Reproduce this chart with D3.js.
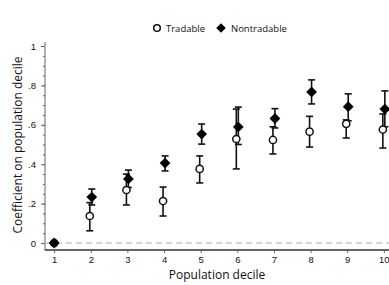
<!DOCTYPE html>
<meta charset="utf-8">
<style>
body { margin: 0; background: #fff; font-family: 'Open Sans', sans-serif; }
text { fill: #111; }
.axis path, .axis line { stroke: #666; }
.zero-line { stroke: #aaa; stroke-dasharray: 6,4; stroke-width: 1; }
.bar { stroke: #111; stroke-width: 1.6px; }
</style>
<body>
<svg width="389" height="285"></svg>
<script src="https://d3js.org/d3.v7.min.js"></script>
<script>
// deciles and point estimates with 95% bands
var deciles = [1,2,3,4,5,6,7,8,9,10];
var tradable      = [0, 0.137, 0.269, 0.213, 0.376, 0.528, 0.523, 0.565, 0.605, 0.576];
var tradableLo    = [0, 0.062, 0.193, 0.137, 0.305, 0.376, 0.452, 0.487, 0.533, 0.482];
var tradableHi    = [0, 0.205, 0.350, 0.284, 0.442, 0.680, 0.590, 0.643, 0.625, 0.655];
var nontradable   = [0, 0.233, 0.325, 0.406, 0.553, 0.589, 0.632, 0.767, 0.692, 0.680];
var nontradableLo = [0, 0.193, 0.282, 0.366, 0.502, 0.500, 0.584, 0.706, 0.620, 0.590];
var nontradableHi = [0, 0.274, 0.370, 0.442, 0.604, 0.690, 0.682, 0.828, 0.757, 0.772];
var yTicks = [0, 0.2, 0.4, 0.6, 0.8, 1];
var yTickLabels = ["0", ".2", ".4", ".6", ".8", "1"];

var svg = d3.select("svg");

var x = d3.scaleLinear().domain([0.75, 10.25]).range([45, 393]);
var y = d3.scaleLinear().domain([0, 1]).range([243, 46]);

// y axis with minor ticks
var yMinor = d3.range(0, 1.0001, 0.05);
svg.append("g")
    .attr("class", "axis")
    .attr("transform", "translate(45,0)")
    .call(d3.axisLeft(y).tickValues(yMinor).tickSize(2).tickFormat(""))
    .call(function(g) { g.select(".domain").remove(); });

svg.append("g")
    .attr("class", "axis axis--y")
    .attr("transform", "translate(45,0)")
    .call(d3.axisLeft(y).tickValues(yTicks).tickSize(4).tickPadding(5)
      .tickFormat(function(d, i) { return yTickLabels[i]; }))
    .call(function(g) {
      g.select(".domain").attr("d", "M0," + y(-0.04) + "V" + y(1.02));
      g.selectAll("text").style("font-size", "9.5px").attr("fill", "#111");
    });

// x axis
svg.append("g")
    .attr("class", "axis axis--x")
    .attr("transform", "translate(0," + y(-0.036) + ")")
    .call(d3.axisBottom(x).tickValues(deciles).tickSize(3).tickPadding(3).tickFormat(d3.format("d")))
    .call(function(g) {
      g.select(".domain").attr("stroke-width", 2).attr("stroke", "#aaa")
        .attr("d", "M45,0H389");
      g.selectAll("text").style("font-size", "9.5px").attr("fill", "#111");
    });

// zero reference line
svg.append("line")
    .attr("class", "zero-line")
    .attr("x1", 46).attr("x2", 389)
    .attr("y1", y(0)).attr("y2", y(0));

// base decile sits exactly on the tick, others are nudged apart
function offset(i, dx) { return i === 0 ? 0 : dx; }

function drawBars(vals, lo, hi, dx) {
  var g = svg.append("g");
  deciles.forEach(function(d, i) {
    if (i === 0) return;
    var cx = x(d) + dx;
    g.append("line").attr("class", "bar")
      .attr("x1", cx).attr("x2", cx).attr("y1", y(lo[i])).attr("y2", y(hi[i]));
    [lo[i], hi[i]].forEach(function(v) {
      g.append("line").attr("class", "bar")
        .attr("x1", cx - 3.5).attr("x2", cx + 3.5).attr("y1", y(v)).attr("y2", y(v));
    });
  });
}

drawBars(tradable, tradableLo, tradableHi, -1);
drawBars(nontradable, nontradableLo, nontradableHi, 1);

// points
svg.append("g").selectAll("circle")
    .data(deciles)
  .enter().append("circle")
    .attr("cx", function(d, i) { return x(d) + offset(i, -1); })
    .attr("cy", function(d, i) { return y(tradable[i]); })
    .attr("r", 3.6)
    .attr("fill", "#fff")
    .attr("stroke", "#111")
    .attr("stroke-width", 1.5);

// rotated-square diamond
var diamond = d3.symbol().type(d3.symbolSquare).size(58);
svg.append("g").selectAll("path")
    .data(deciles)
  .enter().append("path")
    .attr("d", diamond)
    .attr("transform", function(d, i) {
      return "translate(" + (x(d) + offset(i, 1)) + "," + y(nontradable[i]) + ") rotate(45)";
    })
    .attr("fill", "#000");

// legend
var legend = svg.append("g").attr("transform", "translate(0,28)");
legend.append("circle").attr("cx", 157).attr("cy", 0).attr("r", 3.3)
    .attr("fill", "#fff").attr("stroke", "#111").attr("stroke-width", 1.5);
legend.append("text").attr("x", 166).attr("y", 3.5).style("font-size", "9.5px").text("Tradable");
legend.append("path").attr("d", d3.symbol().type(d3.symbolSquare).size(45))
    .attr("transform", "translate(221,0) rotate(45)").attr("fill", "#000");
legend.append("text").attr("x", 231).attr("y", 3.5).style("font-size", "9.5px").text("Nontradable");

// axis titles
svg.append("text")
    .attr("x", 217).attr("y", 279)
    .attr("text-anchor", "middle")
    .style("font-size", "12px")
    .text("Population decile");

svg.append("text")
    .attr("transform", "translate(22,145) rotate(-90)")
    .attr("text-anchor", "middle")
    .style("font-size", "12px")
    .text("Coefficient on population decile");
</script>
</body>
